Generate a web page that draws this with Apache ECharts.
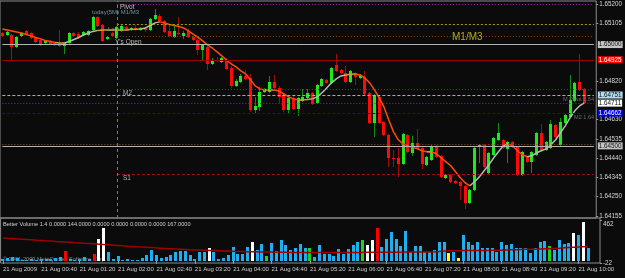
<!DOCTYPE html>
<html>
<head>
<meta charset="utf-8">
<script src="https://cdn.jsdelivr.net/npm/echarts@6/dist/echarts.min.js"></script>
<style>
html, body { margin: 0; padding: 0; background: #0b0b0b; }
#chart { width: 625px; height: 278px; }
</style>
</head>
<body>
<div id="chart"></div>
<script>
// M5 bars, 21 Aug 2009 00:00 .. 10:10
var openPrice = [
  1.65057,1.65047,1.65047,1.64988,1.65043,1.65067,1.65057,1.65033,1.65023,1.65008,
  1.65018,1.65008,1.65003,1.64993,1.65008,1.65057,1.65052,1.65047,1.65047,1.65072,
  1.65136,1.65097,1.65028,1.65057,1.65033,1.65067,1.65087,1.65072,1.65082,1.65072,
  1.65082,1.65072,1.65126,1.65141,1.65116,1.65067,1.65038,1.65057,1.65043,1.65067,
  1.65038,1.65023,1.64974,1.64988,1.64904,1.64924,1.64914,1.64924,1.64885,1.64796,
  1.64816,1.64845,1.64835,1.64678,1.64692,1.64766,1.64766,1.64816,1.64786,1.64752,
  1.64678,1.64737,1.64683,1.64722,1.64737,1.64761,1.64712,1.64796,1.64826,1.64811,
  1.64900,1.64875,1.64860,1.64816,1.64860,1.64835,1.64840,1.64761,1.64614,1.64742,
  1.64619,1.64554,1.64441,1.64441,1.64412,1.64554,1.64466,1.64515,1.64490,1.64407,
  1.64431,1.64500,1.64451,1.64343,1.64357,1.64328,1.64323,1.64303,1.64219,1.64283,
  1.64495,1.64505,1.64367,1.64456,1.64530,1.64530,1.64485,1.64520,1.64495,1.64357,
  1.64446,1.64421,1.64456,1.64564,1.64481,1.64490,1.64604,1.64505,1.64614,1.64643,
  1.64722,1.64816,1.64781
];
var closePrice = [
  1.65043,1.65062,1.64988,1.65038,1.65057,1.65052,1.65033,1.65013,1.64998,1.65018,
  1.65003,1.64998,1.64993,1.65008,1.65057,1.65043,1.65038,1.65062,1.65067,1.65136,
  1.65092,1.65018,1.65038,1.65043,1.65087,1.65092,1.65077,1.65082,1.65072,1.65082,
  1.65072,1.65126,1.65146,1.65116,1.65062,1.65043,1.65067,1.65052,1.65057,1.65038,
  1.65023,1.64974,1.64998,1.64904,1.64924,1.64919,1.64934,1.64880,1.64796,1.64821,
  1.64845,1.64830,1.64678,1.64697,1.64766,1.64781,1.64816,1.64786,1.64742,1.64678,
  1.64737,1.64683,1.64737,1.64742,1.64761,1.64707,1.64801,1.64830,1.64811,1.64885,
  1.64870,1.64860,1.64816,1.64870,1.64840,1.64850,1.64757,1.64614,1.64752,1.64614,
  1.64554,1.64441,1.64436,1.64412,1.64559,1.64471,1.64515,1.64485,1.64412,1.64446,
  1.64500,1.64446,1.64347,1.64357,1.64323,1.64318,1.64303,1.64219,1.64283,1.64490,
  1.64505,1.64397,1.64466,1.64540,1.64564,1.64490,1.64520,1.64495,1.64357,1.64471,
  1.64421,1.64471,1.64564,1.64481,1.64520,1.64609,1.64545,1.64619,1.64653,1.64727,
  1.64811,1.64776,1.64711
];
var lowPrice = [
  1.65038,1.65043,1.64924,1.64983,1.65038,1.65047,1.65028,1.65008,1.64993,1.65003,
  1.64998,1.64993,1.64988,1.64954,1.65003,1.65038,1.65028,1.65043,1.65043,1.65067,
  1.65087,1.65013,1.65023,1.65038,1.65028,1.65062,1.65072,1.65067,1.65067,1.65067,
  1.65062,1.65067,1.65121,1.65112,1.65057,1.65038,1.65033,1.65047,1.65028,1.65033,
  1.65018,1.64949,1.64924,1.64875,1.64900,1.64914,1.64909,1.64875,1.64786,1.64791,
  1.64811,1.64826,1.64668,1.64663,1.64673,1.64761,1.64761,1.64776,1.64712,1.64668,
  1.64658,1.64678,1.64648,1.64717,1.64732,1.64702,1.64707,1.64791,1.64806,1.64806,
  1.64865,1.64855,1.64811,1.64811,1.64801,1.64830,1.64752,1.64609,1.64545,1.64609,
  1.64550,1.64397,1.64397,1.64347,1.64407,1.64466,1.64451,1.64481,1.64387,1.64402,
  1.64426,1.64441,1.64343,1.64338,1.64318,1.64313,1.64234,1.64190,1.64214,1.64278,
  1.64416,1.64392,1.64362,1.64451,1.64525,1.64485,1.64416,1.64490,1.64352,1.64352,
  1.64416,1.64367,1.64451,1.64476,1.64476,1.64485,1.64540,1.64500,1.64609,1.64638,
  1.64717,1.64771,1.64707
];
var highPrice = [
  1.65062,1.65067,1.65052,1.65043,1.65062,1.65072,1.65062,1.65038,1.65028,1.65023,
  1.65023,1.65013,1.65072,1.65013,1.65062,1.65062,1.65062,1.65067,1.65072,1.65141,
  1.65141,1.65102,1.65043,1.65062,1.65092,1.65102,1.65092,1.65087,1.65097,1.65087,
  1.65087,1.65131,1.65176,1.65151,1.65121,1.65102,1.65097,1.65136,1.65067,1.65077,
  1.65043,1.65028,1.65003,1.64998,1.64934,1.64939,1.64939,1.64934,1.64895,1.64830,
  1.64855,1.64875,1.64855,1.64742,1.64791,1.64786,1.64845,1.64850,1.64796,1.64761,
  1.64747,1.64747,1.64742,1.64781,1.64781,1.64766,1.64806,1.64835,1.64830,1.64890,
  1.64954,1.64880,1.64895,1.64875,1.64865,1.64855,1.64870,1.64766,1.64757,1.64747,
  1.64623,1.64559,1.64481,1.64490,1.64564,1.64559,1.64550,1.64584,1.64495,1.64451,
  1.64505,1.64505,1.64456,1.64362,1.64362,1.64333,1.64328,1.64308,1.64288,1.64495,
  1.64510,1.64510,1.64471,1.64545,1.64614,1.64535,1.64525,1.64525,1.64500,1.64476,
  1.64451,1.64476,1.64569,1.64609,1.64525,1.64628,1.64609,1.64638,1.64658,1.64850,
  1.64816,1.64954,1.64786
];
// coloured moving average over the candles
var maPrice = [
  1.65077,1.65072,1.65067,1.65062,1.65057,1.65050,1.65043,1.65035,1.65028,1.65020,
  1.65015,1.65010,1.65008,1.65008,1.65015,1.65025,1.65035,1.65047,1.65057,1.65065,
  1.65070,1.65072,1.65072,1.65072,1.65072,1.65072,1.65072,1.65075,1.65075,1.65077,
  1.65082,1.65094,1.65107,1.65112,1.65107,1.65099,1.65094,1.65089,1.65082,1.65067,
  1.65052,1.65035,1.65018,1.64998,1.64983,1.64964,1.64944,1.64924,1.64904,1.64890,
  1.64870,1.64855,1.64826,1.64796,1.64781,1.64776,1.64776,1.64776,1.64771,1.64757,
  1.64742,1.64732,1.64727,1.64727,1.64729,1.64732,1.64742,1.64762,1.64786,1.64811,
  1.64831,1.64845,1.64850,1.64853,1.64855,1.64850,1.64835,1.64811,1.64776,1.64737,
  1.64692,1.64628,1.64569,1.64530,1.64510,1.64500,1.64493,1.64485,1.64476,1.64471,
  1.64471,1.64461,1.64441,1.64421,1.64402,1.64372,1.64343,1.64318,1.64303,1.64323,
  1.64347,1.64377,1.64407,1.64441,1.64471,1.64500,1.64510,1.64500,1.64476,1.64456,
  1.64446,1.64451,1.64466,1.64476,1.64485,1.64505,1.64530,1.64564,1.64599,1.64638,
  1.64673,1.64697,1.64712
];
// Better Volume histogram, bar class and its average line
var volume = [
  25,30,40,30,15,10,20,15,25,20, 21,30,45,109,21,10,21,40,21,78,
  251,374,97,21,59,5,21,9,5,30, 67,124,67,28,40,67,105,109,109,67,
  21,97,105,143,105,21,28,67,155,78, 78,155,220,124,193,59,201,117,239,182,
  124,143,193,143,147,40,182,78,78,51, 136,78,136,182,212,243,182,243,374,155,
  251,335,251,166,339,105,166,166,97,97, 124,220,220,86,105,28,297,220,182,212,
  143,143,143,105,220,182,193,143,143,143, 90,143,220,232,166,124,239,193,205,320,
  297,443,144
];
// n normal, r climax up, w climax down, g churn, y low
var volClass = [
  'n','n','n','n','n','n','n','n','n','n', 'n','n','n','r','n','n','n','n','n','r',
  'w','w','n','n','n','n','n','n','n','n', 'n','n','n','n','n','n','n','n','n','n',
  'n','n','n','w','n','n','n','n','n','n', 'n','n','w','n','n','g','n','n','n','n',
  'n','n','n','n','g','n','n','n','n','n', 'n','n','n','n','n','g','w','w','r','n',
  'n','n','n','n','n','n','n','n','n','n', 'n','n','n','y','n','y','n','n','n','n',
  'n','n','n','n','n','n','n','n','n','n', 'n','n','n','n','g','n','n','n','n','w',
  'n','w','n'
];
var volAverage = [
  262,258,255,251,248,244,241,237,234,230, 227,223,220,216,213,209,206,202,199,195,
  191,187,184,180,176,172,168,165,161,158, 155,152,149,146,143,140,137,134,131,128,
  126,124,122,120,118,116,114,112,110,108, 107,106,105,104,103,102,101,100,99,98,
  97,97,96,96,96,96,96,96,96,96, 96,96,96,97,97,97,98,98,98,99,
  99,100,100,100,101,101,101,102,102,103, 105,108,112,116,117,117,118,118,119,119,
  120,120,121,122,123,125,127,129,131,132, 133,134,136,138,140,143,146,150,153,156,
  159,163,167
];
var xTickLabels = ['21 Aug 2009','21 Aug 00:40','21 Aug 01:20','21 Aug 02:00','21 Aug 02:40',
  '21 Aug 03:20','21 Aug 04:00','21 Aug 04:40','21 Aug 05:20','21 Aug 06:00','21 Aug 06:40',
  '21 Aug 07:20','21 Aug 08:00','21 Aug 08:40','21 Aug 09:20','21 Aug 10:00'];
var yTicks = [1.64155,1.64250,1.64345,1.64440,1.64535,1.64630,1.64820,1.65105,1.65200];
var volTicks = [462, -22];

// horizontal levels
var pivotLevel = 1.65200, m1Level = 1.65100, yOpenLevel = 1.65040, round1 = 1.65000,
    redLevel = 1.64925, m2Level = 1.64781, dashLevel = 1.64751, bidLevel = 1.64711,
    blueLevel = 1.64662, yLowLevel = 1.64510, round2 = 1.64500, s1Level = 1.64362;
var dayStartBar = 24;

var nCat = 125;
var categories = [];
for (var i = 0; i < nCat; i++) categories.push(i % 8 === 0 ? xTickLabels[i / 8] || '' : '');

var font = "'Liberation Sans', Arial, sans-serif";

var candleData = openPrice.map(function (o, i) {
  return [i, o, closePrice[i], lowPrice[i], highPrice[i]];
});
var volData = volume.map(function (v, i) { return [i, v, volClass[i]]; });

// split the average into rising / falling / flat pieces
var maUp = [], maDown = [], maFlat = [];
for (var k = 0; k < maPrice.length; k++) { maUp.push(null); maDown.push(null); maFlat.push(null); }
for (var k = 0; k < maPrice.length - 1; k++) {
  var d = maPrice[k + 1] - maPrice[k];
  var arr = Math.abs(d) <= 0.000031 ? maFlat : (d > 0 ? maUp : maDown);
  arr[k] = maPrice[k]; arr[k + 1] = maPrice[k + 1];
}

var chart = echarts.init(document.getElementById('chart'), null, { renderer: 'canvas' });

function renderCandle(params, api) {
  var i = api.value(0), o = api.value(1), c = api.value(2), l = api.value(3), h = api.value(4);
  var pO = api.coord([i, o]), pC = api.coord([i, c]);
  var pL = api.coord([i, l]), pH = api.coord([i, h]);
  var cx = Math.floor(pO[0]);
  var up = c > o;
  var top = Math.round(Math.min(pO[1], pC[1]));
  var bot = Math.round(Math.max(pO[1], pC[1]));
  return {
    type: 'group',
    children: [
      { type: 'line', shape: { x1: cx + 0.5, y1: Math.round(pH[1]), x2: cx + 0.5, y2: Math.round(pL[1]) },
        style: { stroke: up ? '#0f8f0f' : '#a00c0c', lineWidth: 1 } },
      { type: 'rect', shape: { x: cx - 1, y: top, width: 3, height: Math.max(bot - top, 1) },
        style: { fill: up ? '#1fe81f' : '#ff0a0a' } }
    ]
  };
}

var volColors = { n: '#1eaff0', r: '#ff0000', w: '#ffffff', g: '#1fd11f', y: '#ffff00' };
function renderVol(params, api) {
  var i = api.value(0), v = api.value(1);
  var p0 = api.coord([i, 0]), p1 = api.coord([i, v]);
  var cx = Math.floor(p0[0]);
  var t = Math.round(p1[1]), b = Math.round(p0[1]);
  return { type: 'rect', shape: { x: cx - 1, y: t, width: 3, height: b - t },
    style: { fill: volColors[volData[params.dataIndex][2]] } };
}

function levelLine(p, fromBar, color, type, lbl) {
  var item = [
    { coord: [fromBar, p], lineStyle: { color: color, type: type, width: 1 } },
    { coord: [nCat - 1, p] }
  ];
  if (lbl) {
    item[0].label = { show: true, position: 'end', distance: 4, formatter: p.toFixed(5),
      color: lbl[1], backgroundColor: lbl[0], padding: [1, 1, 0, 1],
      fontSize: 6.3, fontFamily: font };
  }
  return item;
}

var option = {
  backgroundColor: '#0b0b0b',
  animation: false,
  grid: [
    { left: 0, right: 25, top: 1, height: 217, show: true, borderColor: '#8c8c8c', borderWidth: 1 },
    { left: 0, right: 25, top: 218, height: 45, show: true, borderColor: '#8c8c8c', borderWidth: 1 }
  ],
  xAxis: [
    { type: 'category', gridIndex: 0, data: categories, boundaryGap: true,
      axisLine: { show: false }, axisTick: { show: false }, axisLabel: { show: false } },
    { type: 'category', gridIndex: 1, data: categories, boundaryGap: true,
      axisLine: { show: false },
      axisTick: { show: true, alignWithLabel: true, length: 3, lineStyle: { color: '#9a9a9a' },
        interval: function (idx) { return idx % 8 === 0; } },
      axisLabel: { show: true, align: 'left', margin: 3, color: '#d0d0d0', fontSize: 6,
        fontFamily: font, hideOverlap: false,
        interval: function (idx) { return idx % 8 === 0; } } }
  ],
  yAxis: [
    { type: 'value', gridIndex: 0, position: 'right', min: 1.64144, max: 1.65215, scale: true,
      splitLine: { show: false }, axisLine: { show: false },
      axisTick: { show: true, length: 2, customValues: yTicks, lineStyle: { color: '#9a9a9a' } },
      axisLabel: { show: true, customValues: yTicks, margin: 3, color: '#d8d8d8', fontSize: 6.3,
        fontFamily: font, formatter: function (v) { return v.toFixed(5); } } },
    { type: 'value', gridIndex: 1, position: 'right', min: -24, max: 491,
      splitLine: { show: false }, axisLine: { show: false },
      axisTick: { show: true, length: 2, customValues: volTicks, lineStyle: { color: '#9a9a9a' } },
      axisLabel: { show: true, customValues: volTicks, margin: 3, color: '#d8d8d8', fontSize: 6.3,
        fontFamily: font,
        formatter: function (v) { return v > 0 ? '{t|' + v + '}' : String(v); },
        rich: { t: { padding: [7, 0, 0, 0], fontSize: 6.3, color: '#d8d8d8', fontFamily: font } } } }
  ],
  graphic: [
    { type: 'text', left: 3, top: 256, z: 0, silent: true,
      style: { text: '\u00a9 2001-2009 MetaQuotes Software Corp.', fill: '#8a8a8a', font: '5.6px ' + font } },
    { type: 'text', left: 3, top: 221, z: 10, silent: true,
      style: { text: 'Better Volume 1.4 0.0000 144.0000 0.0000 0.0000 0.0000 0.0000 167.0000',
        fill: '#d0d0d0', font: '5.6px ' + font } },
    { type: 'text', left: 120, top: 4, z: 10, silent: true, style: { text: 'Pivot', fill: '#c0c0c0', font: '6.5px ' + font } },
    { type: 'text', left: 92, top: 9, z: 10, silent: true, style: { text: 'today(5M) M1/M3', fill: '#6f93a3', font: '6px ' + font } },
    { type: 'text', left: 108, top: 26, z: 1, silent: true, style: { text: 'Low Y\'s', fill: '#9a9a9a', font: '6px ' + font } },
    { type: 'text', left: 115, top: 39, z: 10, silent: true, style: { text: 'Y\'s Open', fill: '#b8b8b8', font: '6.5px ' + font } },
    { type: 'text', left: 123, top: 90, z: 10, silent: true, style: { text: 'M2', fill: '#b0b0b0', font: '6.5px ' + font } },
    { type: 'text', left: 123, top: 175, z: 10, silent: true, style: { text: 'S1', fill: '#b0b0b0', font: '6.5px ' + font } },
    { type: 'text', left: 452, top: 32, z: 10, silent: true, style: { text: 'M1/M3', fill: '#b3a81c', font: '10px ' + font } },
    { type: 'text', left: 563, top: 96, z: 10, silent: true, style: { text: 'M Pivot 1.64', fill: '#6c6c6c', font: '5.6px ' + font } },
    { type: 'text', left: 574, top: 114, z: 10, silent: true, style: { text: 'M2 1.64', fill: '#6c6c6c', font: '5.6px ' + font } }
  ],
  series: [
    {
      name: 'levels', type: 'line', xAxisIndex: 0, yAxisIndex: 0, data: closePrice, z: 1,
      symbol: 'none', silent: true, lineStyle: { opacity: 0 },
      markLine: {
        silent: true, symbol: 'none', animation: false,
        label: { show: false },
        data: [
          levelLine(pivotLevel, dayStartBar, '#b020b0', [1, 2]),
          levelLine(m1Level, dayStartBar, '#a89a1c', [2, 2]),
          levelLine(yOpenLevel, dayStartBar, '#8a4a1a', [1, 2]),
          levelLine(m2Level, dayStartBar, '#1d6a1d', [1, 2]),
          levelLine(s1Level, dayStartBar, '#a01010', [3, 2]),
          levelLine(round1, 0, '#b4b4b4', 'solid', ['#c4c4c4', '#101010']),
          levelLine(redLevel, 0, '#9c0000', 'solid', ['#ff0000', '#ffffff']),
          levelLine(dashLevel, 0, '#a8acb8', [3, 2], ['#b4dcf0', '#101010']),
          levelLine(bidLevel, 0, '#5a3aa0', [1, 2], ['#ffffff', '#101010']),
          levelLine(blueLevel, 0, '#14148a', [3, 2], ['#0000ff', '#ffffff']),
          levelLine(yLowLevel, 0, '#8a5a1a', [1, 2]),
          levelLine(round2, 0, '#b4b4b4', 'solid', ['#c4c4c4', '#101010']),
          { xAxis: dayStartBar, lineStyle: { color: '#7a7a7a', type: [3, 3], width: 1 } }
        ]
      }
    },
    {
      name: 'candles', type: 'custom', xAxisIndex: 0, yAxisIndex: 0, z: 3,
      renderItem: renderCandle, data: candleData,
      encode: { x: 0, y: [1, 2, 3, 4] }
    },
    { name: 'maDown', type: 'line', xAxisIndex: 0, yAxisIndex: 0, data: maDown, z: 4,
      symbol: 'none', connectNulls: false, lineStyle: { color: '#ff4a0a', width: 1.5 } },
    { name: 'maUp', type: 'line', xAxisIndex: 0, yAxisIndex: 0, data: maUp, z: 4,
      symbol: 'none', connectNulls: false, lineStyle: { color: '#aebfae', width: 1.5 } },
    { name: 'maFlat', type: 'line', xAxisIndex: 0, yAxisIndex: 0, data: maFlat, z: 4,
      symbol: 'none', connectNulls: false, lineStyle: { color: '#c9a23a', width: 1.5 } },
    {
      name: 'volume', type: 'custom', xAxisIndex: 1, yAxisIndex: 1, z: 3,
      renderItem: renderVol, data: volData, encode: { x: 0, y: 1 }
    },
    { name: 'volAvg', type: 'line', xAxisIndex: 1, yAxisIndex: 1, data: volAverage, z: 5,
      symbol: 'none', lineStyle: { color: '#a00000', width: 1.5 } }
  ]
};

chart.setOption(option);
</script>
</body>
</html>
